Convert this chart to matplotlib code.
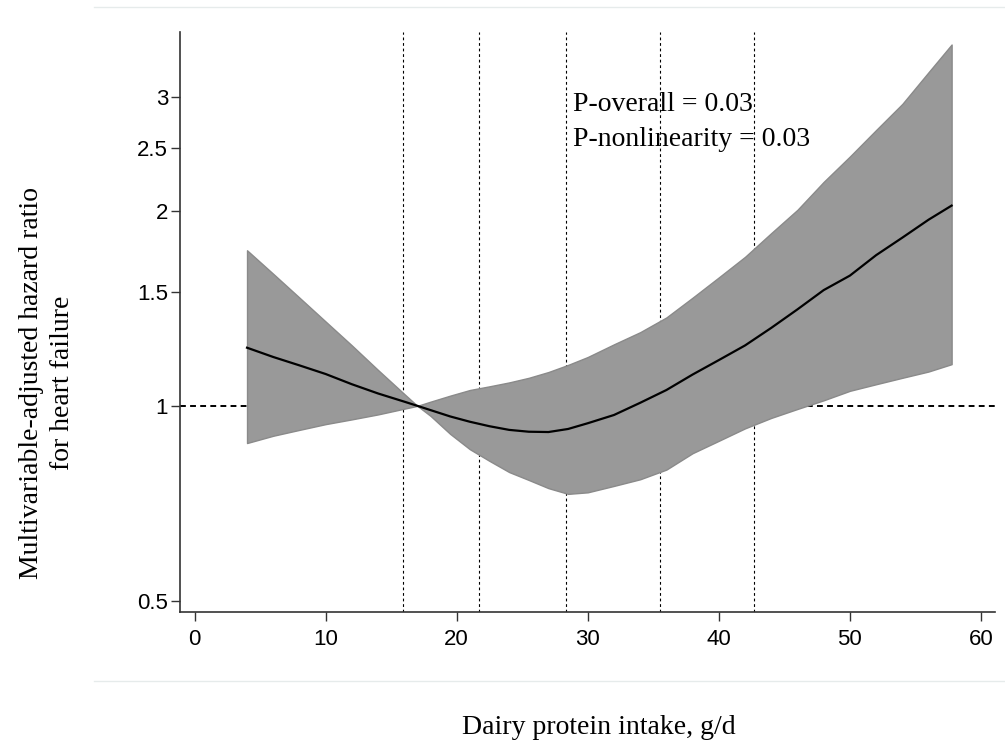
import matplotlib
matplotlib.use("Agg")
from matplotlib import pyplot as plt
from matplotlib.lines import Line2D
from matplotlib.ticker import FixedLocator, NullLocator

# dairy protein intake (g/d) and spline estimates
intake = [4, 6, 8, 10, 12, 14, 16, 17, 18, 19.5, 21, 22.5, 24, 25.5, 27, 28.5,
          30, 32, 34, 36, 38, 40, 42, 44, 46, 48, 50, 52, 54, 56, 57.76]
hr = [1.23, 1.19, 1.155, 1.12, 1.08, 1.045, 1.015, 1.0, 0.985, 0.963, 0.945, 0.93,
      0.918, 0.912, 0.911, 0.921, 0.94, 0.968, 1.011, 1.058, 1.118, 1.177, 1.24,
      1.32, 1.41, 1.51, 1.59, 1.71, 1.82, 1.94, 2.04]
lower = [0.876, 0.899, 0.918, 0.937, 0.953, 0.970, 0.990, 1.0, 0.965, 0.905, 0.857,
         0.822, 0.79, 0.768, 0.746, 0.731, 0.735, 0.752, 0.77, 0.797, 0.845, 0.883,
         0.923, 0.958, 0.989, 1.02, 1.055, 1.08, 1.105, 1.13, 1.16]
upper = [1.74, 1.60, 1.47, 1.35, 1.24, 1.136, 1.043, 1.0, 1.015, 1.037, 1.058,
         1.072, 1.087, 1.105, 1.128, 1.157, 1.19, 1.245, 1.30, 1.37, 1.47, 1.58,
         1.70, 1.85, 2.01, 2.22, 2.43, 2.67, 2.93, 3.28, 3.62]
knots = [15.9, 21.7, 28.3, 35.5, 42.65]

xticks = [0, 10, 20, 30, 40, 50, 60]
yticks = [0.5, 1, 1.5, 2, 2.5, 3]
ytick_labels = ["0.5", "1", "1.5", "2", "2.5", "3"]

serif = ["Liberation Serif", "DejaVu Serif"]
sans = ["Liberation Sans", "DejaVu Sans"]

fig = plt.figure(figsize=(10.05, 7.45), dpi=100)
ax = fig.add_axes([180 / 1005, 133 / 745, 815 / 1005, 580 / 745])

ax.set_yscale("log")
ax.set_xlim(-1.114, 61.07)
ax.set_ylim(0.480, 3.785)

# reference line and knot positions
ax.axhline(1, color="black", lw=1.4, linestyle=(0, (3, 2.2)), zorder=1)
for k in knots:
    ax.axvline(k, color="black", lw=0.8, linestyle=(0, (2.5, 2.5)), zorder=1)

ax.fill_between(intake, lower, upper, facecolor="#999999", edgecolor="#8a8a8a",
                lw=1.0, zorder=2)
ax.plot(intake, hr, color="black", lw=1.6, zorder=3)

ax.text(28.87, 2.925, "P-overall = 0.03", fontsize=20, family=serif,
        va="center", ha="left", zorder=4)
ax.text(28.87, 2.585, "P-nonlinearity = 0.03", fontsize=20, family=serif,
        va="center", ha="left", zorder=4)

for s in ["top", "right"]:
    ax.spines[s].set_visible(False)
for s in ["left", "bottom"]:
    ax.spines[s].set_color("#333333")
    ax.spines[s].set_linewidth(1.2)

ax.xaxis.set_major_locator(FixedLocator(xticks))
ax.yaxis.set_major_locator(FixedLocator(yticks))
ax.yaxis.set_minor_locator(NullLocator())
ax.set_yticklabels(ytick_labels)
ax.tick_params(axis="both", length=6.5, width=1.0, color="#333333",
               labelsize=16)
ax.tick_params(axis="x", pad=6)
ax.tick_params(axis="y", pad=2)
for lab in ax.get_xticklabels() + ax.get_yticklabels():
    lab.set_family(sans)

fig.text(599 / 1005, 1 - 728 / 745, "Dairy protein intake, g/d", fontsize=20,
         family=serif, ha="center", va="center")
fig.text(47 / 1005, 1 - 383 / 745,
         "Multivariable-adjusted hazard ratio\nfor heart failure", fontsize=20,
         family=serif, ha="center", va="center", rotation=90, linespacing=1.35)

# faint region borders
for yy in [7, 681]:
    fig.add_artist(Line2D([94 / 1005, 1], [1 - yy / 745, 1 - yy / 745],
                          color="#e6ebeb", lw=1.0))

fig.savefig("out.png", dpi=100)
